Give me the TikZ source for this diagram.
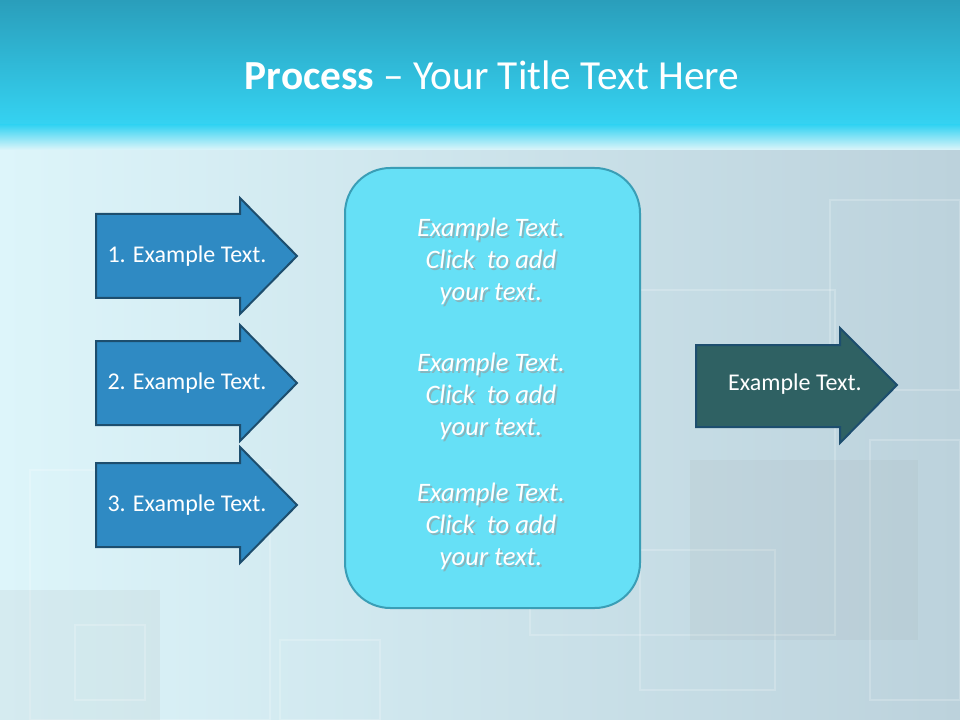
\documentclass[tikz,border=0pt]{standalone}
\usepackage{fontspec}
\setmainfont{Carlito}
\usetikzlibrary{shadings}
\definecolor{topdark}{HTML}{2A9EBB}
\definecolor{topbright}{HTML}{35D3F2}
\definecolor{bglight}{HTML}{DDF5FA}
\definecolor{bggray}{HTML}{BCD2DC}
\definecolor{arrfill}{HTML}{2F8AC3}
\definecolor{arrline}{HTML}{1D4E6E}
\definecolor{darkfill}{HTML}{2F6163}
\definecolor{panelfill}{HTML}{66E0F6}
\definecolor{panelline}{HTML}{3A9EB6}
\tikzset{
  arrowshape/.style={fill=arrfill,draw=arrline,line width=1.5pt,line join=miter},
  darkarrow/.style={fill=darkfill,draw=arrline,line width=1.5pt,line join=miter},
  arrtext/.style={text=white,font=\fontsize{18}{20}\selectfont},
  paneltext/.style={text=white,font=\itshape\fontsize{20}{24}\selectfont,align=center},
  deco/.style={draw=white,opacity=0.2,line width=2pt},
}
\begin{document}
\begin{tikzpicture}[x=0.75pt,y=-0.75pt]
\useasboundingbox (0,0) rectangle (960,720);
% background
\shade[left color=bglight,right color=bggray] (0,130) rectangle (960,720);
\shade[top color=topdark,bottom color=topbright] (0,0) rectangle (960,125);
\shade[top color=topbright,bottom color=bglight] (0,125) rectangle (960,150);
% decorative squares
\draw[deco] (30,470) rectangle (270,720);
\draw[deco] (530,290) rectangle (835,635);
\draw[deco] (830,200) rectangle (960,390);
\draw[deco] (640,550) rectangle (775,690);
\draw[deco] (870,440) rectangle (960,700);
\draw[deco] (280,640) rectangle (380,720);
\fill[gray,opacity=0.08] (0,590) rectangle (160,720);
\fill[gray,opacity=0.07] (690,460) rectangle (918,640);
\draw[deco] (75,625) rectangle (145,700);
% title
\node (title) at (492,75) {\color{white}\fontsize{31}{36}\selectfont\textbf{Process} – Your Title Text Here};
% left arrows
\foreach \c/\t [count=\i] in {256/1, 383/2, 505/3}{
  \draw[arrowshape] (96,\c-42) -- (240,\c-42) -- (240,\c-58) -- (297,\c) -- (240,\c+58) -- (240,\c+42) -- (96,\c+42) -- cycle;
  \node[arrtext] (a\i) at (187,\c) {\t. Example Text.};
}
% right arrow
\draw[darkarrow] (696,345) -- (840,345) -- (840,328) -- (897,385) -- (840,443) -- (840,427) -- (696,427) -- cycle;
\node[arrtext] (r) at (795,384) {Example Text.};
% panel
\draw[fill=panelfill,draw=panelline,line width=1.5pt,rounded corners=34pt] (345,168) rectangle (640,608);
\foreach \y [count=\i] in {261,396,526}{
  \node[paneltext,text=black!40,opacity=0.6] at (493,\y+2) {Example Text.\\Click\ \ to add\\your text.};
  \node[paneltext] (p\i) at (491,\y) {Example Text.\\Click\ \ to add\\your text.};
}
\end{tikzpicture}
\end{document}
